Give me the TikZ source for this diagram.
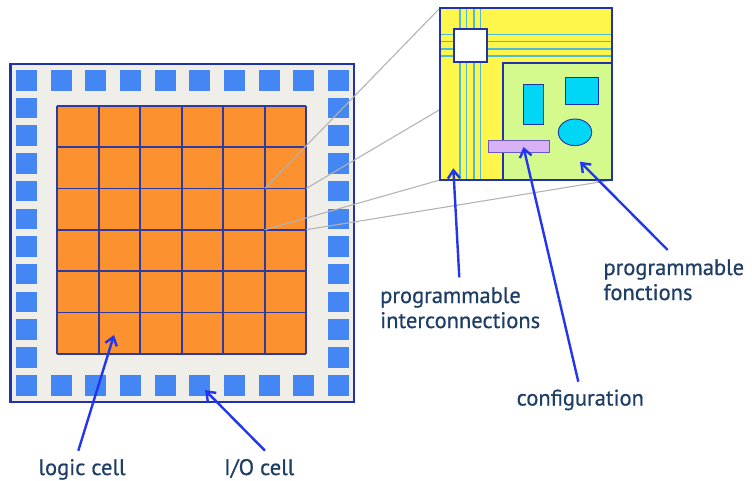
\documentclass[tikz,border=0pt]{standalone}
\usepackage{fontspec}
\setmainfont{PT Sans}
\newfontfamily\lblfont[FakeBold=0.6]{PT Sans}
\usetikzlibrary{arrows.meta}
\definecolor{orangecell}{HTML}{FC9130}
\definecolor{iocol}{HTML}{4586F5}
\definecolor{chipbg}{HTML}{F0EEE9}
\definecolor{darkblue}{HTML}{2232A8}
\definecolor{gridblue}{HTML}{2E3A9E}
\definecolor{yel}{HTML}{FFF64C}
\definecolor{grn}{HTML}{D4F98C}
\definecolor{cyn}{HTML}{00D6F6}
\definecolor{purp}{HTML}{D8B1F6}
\definecolor{purpedge}{HTML}{6A5CC0}
\definecolor{wire}{HTML}{4DBAD6}
\definecolor{txt}{HTML}{1F3E66}
\definecolor{arrowblue}{HTML}{2236F0}
\definecolor{zoomline}{HTML}{B3B3B3}
\begin{document}
\begin{tikzpicture}[x=1pt,y=-1pt,
  lbl/.style={text=txt, font=\lblfont\fontsize{22.5}{26}\selectfont, inner sep=0pt, anchor=base west},
  pointer/.style={draw=arrowblue, line width=2.4pt, -{Straight Barb[length=8pt,width=12pt,line width=2.4pt]}},
  iocell/.style={fill=iocol},
  gridline/.style={draw=gridblue, line width=1.8pt},
  wireline/.style={draw=wire, line width=1.3pt},
  zoomray/.style={draw=zoomline, line width=1.1pt},
  func/.style={fill=cyn, draw=darkblue, line width=0.9pt}
]
\useasboundingbox (0,0) rectangle (752,480);
% chip
\draw[fill=chipbg, draw=darkblue, line width=2.8pt] (10.5,64) rectangle (354,402);
% I/O cells
\foreach \i in {0,...,9} {
  \fill[iocell] (16+34.67*\i,70) rectangle ++(21,20.5);
  \fill[iocell] (16+34.67*\i,375) rectangle ++(21,20.5);
}
\foreach \j in {1,...,10} {
  \fill[iocell] (16,70+27.7*\j) rectangle ++(21,20.5);
  \fill[iocell] (328,70+27.7*\j) rectangle ++(21,20.5);
}
% logic cells
\fill[orangecell] (57.3,105.7) rectangle (306.3,353.8);
\foreach \i in {0,...,6} {
  \draw[gridline] (57.3+41.5*\i,105.7) -- ++(0,248.1);
  \draw[gridline] (57.3,105.7+41.35*\i) -- ++(249,0);
}
% zoom rays
\coordinate (c1) at (264.8,188.4);
\coordinate (c2) at (306.3,188.4);
\coordinate (c3) at (264.8,229.7);
\coordinate (c4) at (306.3,229.7);
\coordinate (b1) at (440,8);
\coordinate (b2) at (612,8);
\coordinate (b3) at (440,180);
\coordinate (b4) at (612,180);
\draw[zoomray] (c1) -- (b1);
\draw[zoomray] (c2) -- (b2);
\draw[zoomray] (c3) -- (b3);
\draw[zoomray] (c4) -- (b4);
% zoomed cell
\fill[yel] (b1) rectangle (b4);
\foreach \x in {460,466.7,474,480.7} {
  \draw[wireline] (\x,8) -- (\x,180);
}
\foreach \y in {34.3,41.7,49,56} {
  \draw[wireline] (440,\y) -- (612,\y);
}
\draw[fill=grn, draw=darkblue, line width=2.2pt] (502.7,63.3) rectangle (612,180);
\draw[fill=white, draw=darkblue, line width=2pt] (454,29) rectangle (487.3,61.7);
\draw[darkblue, line width=2.8pt] (b1) rectangle (b4);
\draw[func] (523.3,84.3) rectangle (543.3,124.3);
\draw[func] (565,77.3) rectangle (598.3,104);
\draw[func] (575,132.3) ellipse [x radius=16.7, y radius=13.3];
\draw[fill=purp, draw=purpedge, line width=0.9pt] (488.3,140) rectangle (549.3,152.3);
% labels
\node[lbl] (lprog1) at (380,303) {programmable};
\node[lbl] (linter) at (380,328) {interconnections};
\node[lbl] (lprog2) at (603.3,275) {programmable};
\node[lbl] (lfonc) at (603.3,300) {fonctions};
\node[lbl] (lconf) at (516.5,405.5) {configuration};
\node[lbl] (llogic) at (38.3,475) {logic cell};
\node[lbl] (lio) at (224,475) {I/O cell};
% arrows
\coordinate (tInter) at (459.3,277.3);
\coordinate (hInter) at (453.3,168.3);
\coordinate (tConf) at (578.3,381.7);
\coordinate (hConf) at (523.5,147);
\coordinate (tFonc) at (667.7,250);
\coordinate (hFonc) at (580,161.7);
\coordinate (tLogic) at (78.3,450.7);
\coordinate (hLogic) at (114,335);
\coordinate (tIO) at (265,450.7);
\coordinate (hIO) at (205,390);
\draw[pointer] (tInter) -- (hInter);
\draw[pointer] (tConf) -- (hConf);
\draw[pointer] (tFonc) -- (hFonc);
\draw[pointer] (tLogic) -- (hLogic);
\draw[pointer] (tIO) -- (hIO);
\end{tikzpicture}
\end{document}
